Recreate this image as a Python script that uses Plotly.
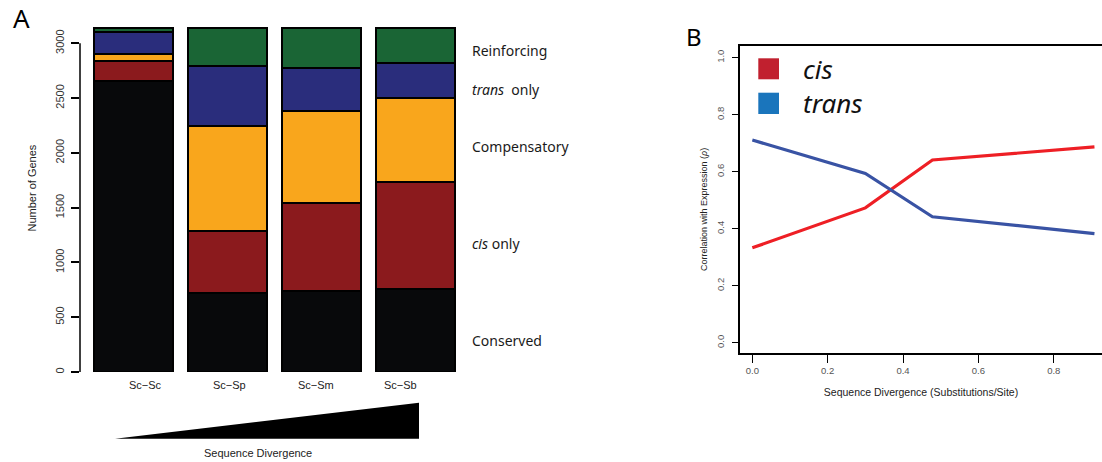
import plotly.graph_objects as go

W, H = 1102, 462

# ---- Panel A: gene classes by species pair ----
pairs = ["Sc\u2212Sc", "Sc\u2212Sp", "Sc\u2212Sm", "Sc\u2212Sb"]
classes = ["Conserved", "cis only", "Compensatory", "trans only", "Reinforcing"]
conserved = [2656, 718, 736, 755]
cis_only = [182, 569, 809, 982]
compensatory = [60, 961, 834, 763]
trans_only = [202, 547, 398, 317]
reinforcing = [37, 342, 360, 320]
class_values = [conserved, cis_only, compensatory, trans_only, reinforcing]
class_colors = ["#08090b", "#8b1a1d", "#f9a61c", "#2a2d7c", "#1a6535"]
class_labels = ["Conserved", "<i>cis</i> only", "Compensatory", "<i>trans</i>  only", "Reinforcing"]
class_label_y = [283, 1175, 2056, 2574, 2932]
pair_label_shift = [0.12, 0.02, -0.06, -0.16]

# ---- Panel B: correlation with expression vs divergence ----
divergence = [0.0, 0.30, 0.478, 0.908]
rho_cis = [0.333, 0.473, 0.641, 0.687]
rho_trans = [0.711, 0.594, 0.442, 0.383]


def px_x(p):
    return p / W


def px_y(p):
    return 1 - p / H


fig = go.Figure()

pos = list(range(len(pairs)))
for vals, col, name in zip(class_values, class_colors, classes):
    fig.add_trace(go.Bar(
        x=pos, y=vals, name=name, width=0.843,
        marker=dict(color=col, line=dict(color="#000000", width=2)),
        xaxis="x", yaxis="y", showlegend=False,
    ))

fig.add_trace(go.Scatter(
    x=divergence, y=rho_cis, mode="lines", name="cis",
    line=dict(color="#ee1f25", width=3.2), xaxis="x2", yaxis="y2", showlegend=False,
))
fig.add_trace(go.Scatter(
    x=divergence, y=rho_trans, mode="lines", name="trans",
    line=dict(color="#3953a4", width=3.2), xaxis="x2", yaxis="y2", showlegend=False,
))

tick_font = dict(family="Liberation Sans, Arial", size=11, color="#333333")

fig.update_layout(
    width=W, height=H, autosize=False,
    margin=dict(l=0, r=0, t=0, b=0),
    paper_bgcolor="white", plot_bgcolor="white",
    barmode="stack", bargap=0,
    xaxis=dict(
        domain=[px_x(80), px_x(460)], range=[-0.576, 3.48],
        showgrid=False, zeroline=False, showline=False, showticklabels=False, ticks="",
    ),
    yaxis=dict(
        domain=[px_y(372), px_y(20)], range=[0, 3212.6],
        tickvals=[0, 500, 1000, 1500, 2000, 2500, 3000],
        ticks="outside", ticklen=8, tickwidth=1.5, tickcolor="#000000",
        tickangle=-90, tickfont=tick_font, ticklabelstandoff=3,
        showgrid=False, zeroline=False, showline=False,
    ),
    xaxis2=dict(
        domain=[px_x(740), 1.0], range=[-0.0327, 0.928], anchor="y2",
        tickvals=[0.0, 0.2, 0.4, 0.6, 0.8], tickformat=".1f",
        ticks="outside", ticklen=8, tickwidth=1.2, tickcolor="#000000",
        tickfont=dict(family="Liberation Sans, Arial", size=9.5, color="#555555"),
        showline=True, linecolor="#000000", linewidth=1.5, mirror=True,
        showgrid=False, zeroline=False,
        title=dict(text="Sequence Divergence (Substitutions/Site)",
                   font=dict(family="Liberation Sans, Arial", size=10.5, color="#222222"),
                   standoff=13),
    ),
    yaxis2=dict(
        domain=[px_y(353.3), px_y(45.7)], range=[-0.037, 1.042], anchor="x2",
        tickvals=[0.0, 0.2, 0.4, 0.6, 0.8, 1.0], tickformat=".1f",
        ticks="outside", ticklen=6, tickwidth=1.2, tickcolor="#000000",
        tickangle=-90, ticklabelstandoff=4,
        tickfont=dict(family="Liberation Sans, Arial", size=9.5, color="#555555"),
        showline=True, linecolor="#000000", linewidth=1.5, mirror=False,
        showgrid=False, zeroline=False,
    ),
)

shapes = []
# left axis line covering only the tick range
shapes.append(dict(type="line", xref="x domain", yref="y", x0=0, x1=0, y0=0, y1=3000,
                   line=dict(color="#000000", width=1.5)))
# divergence wedge under the bars
shapes.append(dict(
    type="path", xref="paper", yref="paper",
    path=f"M {px_x(115)} {px_y(438.7)} L {px_x(419)} {px_y(402.7)} L {px_x(419)} {px_y(438.7)} Z",
    fillcolor="#000000", line=dict(width=0),
))
# legend swatches for panel B
shapes.append(dict(type="rect", xref="paper", yref="paper",
                   x0=px_x(758.3), x1=px_x(779), y0=px_y(79.3), y1=px_y(58.3),
                   fillcolor="#c1202f", line=dict(width=0)))
shapes.append(dict(type="rect", xref="paper", yref="paper",
                   x0=px_x(758.3), x1=px_x(779), y0=px_y(114), y1=px_y(92.7),
                   fillcolor="#1a75bc", line=dict(width=0)))
fig.update_layout(shapes=shapes)

ann = []
label_font = dict(family="Noto Sans", size=14, color="#1a1a1a")
for txt, yv in zip(class_labels, class_label_y):
    ann.append(dict(text=txt, xref="paper", yref="y", x=px_x(470), y=yv,
                    xanchor="left", yanchor="middle", showarrow=False, font=label_font))
for i, (p, s) in enumerate(zip(pairs, pair_label_shift)):
    ann.append(dict(text=p, xref="x", yref="paper", x=i + s, y=px_y(385),
                    xanchor="center", yanchor="middle", showarrow=False,
                    font=dict(family="Liberation Sans, Arial", size=11, color="#222222")))
ann.append(dict(text="Number of Genes", xref="paper", yref="paper", x=px_x(32), y=px_y(188.5),
                textangle=-90, xanchor="center", yanchor="middle", showarrow=False,
                font=dict(family="Liberation Sans, Arial", size=11, color="#222222")))
ann.append(dict(text="Sequence Divergence", xref="paper", yref="paper", x=px_x(258), y=px_y(452.7),
                xanchor="center", yanchor="middle", showarrow=False,
                font=dict(family="Liberation Sans, Arial", size=11, color="#222222")))
ann.append(dict(text="A", xref="paper", yref="paper", x=px_x(11), y=px_y(18.5),
                xanchor="left", yanchor="middle", showarrow=False,
                font=dict(family="Noto Sans", size=26, color="#000000")))
ann.append(dict(text="B", xref="paper", yref="paper", x=px_x(684), y=px_y(36.5),
                xanchor="left", yanchor="middle", showarrow=False,
                font=dict(family="Noto Sans", size=24, color="#000000")))
ann.append(dict(text="Correlation with Expression (<i>\u03c1</i>)", xref="paper", yref="paper",
                x=px_x(704), y=px_y(210), textangle=-90, xanchor="center", yanchor="middle",
                showarrow=False, font=dict(family="Liberation Sans, Arial", size=9, color="#222222")))
ann.append(dict(text="<i>cis</i>", xref="paper", yref="paper", x=px_x(801), y=px_y(69),
                xanchor="left", yanchor="middle", showarrow=False,
                font=dict(family="Noto Sans", size=26, color="#111111")))
ann.append(dict(text="<i>trans</i>", xref="paper", yref="paper", x=px_x(801), y=px_y(103),
                xanchor="left", yanchor="middle", showarrow=False,
                font=dict(family="Noto Sans", size=26, color="#111111")))
fig.update_layout(annotations=ann)

fig.write_html("out.html")
